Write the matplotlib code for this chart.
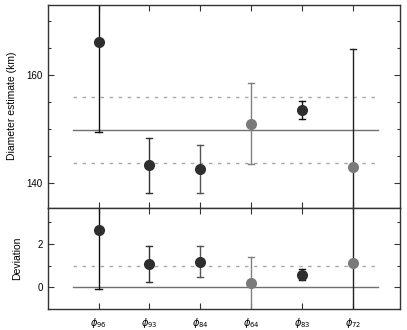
import numpy as np
import matplotlib.pyplot as plt

labels = [r"$\phi_{96}$", r"$\phi_{93}$", r"$\phi_{84}$", r"$\phi_{64}$", r"$\phi_{83}$", r"$\phi_{72}$"]

# diametro estimado (km) com barras de erro
diam = [166.0, 143.2, 142.5, 150.9, 153.5, 143.0]
diam_lo = [149.4, 138.0, 138.1, 143.4, 151.8, 125.0]
diam_hi = [180.0, 148.3, 146.9, 158.5, 155.2, 164.7]
diam_mean = 149.8
diam_std = 6.1

# desvio
dev = [2.63, 1.08, 1.17, 0.18, 0.58, 1.13]
dev_lo = [-0.08, 0.24, 0.46, -2.0, 0.33, -2.0]
dev_hi = [5.0, 1.91, 1.89, 1.40, 0.85, 5.0]

point_colors = ["#2e2e2e", "#2e2e2e", "#2e2e2e", "#7a7a7a", "#2e2e2e", "#7a7a7a"]
bar_colors = ["#111111", "#333333", "#555555", "#808080", "#111111", "#222222"]

plt.rcParams['font.family'] = ['Liberation Sans', 'DejaVu Sans']
plt.rcParams['mathtext.fontset'] = 'dejavusans'

fig = plt.figure(figsize=(4.07, 3.30), dpi=100)
ax1 = fig.add_axes([0.1172, 0.3712, 0.8668, 0.6146])
ax2 = fig.add_axes([0.1172, 0.0636, 0.8668, 0.3076])

x = np.arange(1, len(labels) + 1)


def draw_panel(ax, vals, lo, hi):
    for i in range(len(x)):
        ax.plot([x[i], x[i]], [lo[i], hi[i]], color=bar_colors[i], lw=1.0, zorder=2)
        for y in (lo[i], hi[i]):
            ax.plot([x[i] - 0.06, x[i] + 0.06], [y, y], color=bar_colors[i], lw=1.0, zorder=2)
        ax.plot(x[i], vals[i], 'o', color=point_colors[i], ms=8, mec='none', zorder=3)


# painel superior
ax1.plot([0.5, 6.5], [diam_mean, diam_mean], color="#707070", lw=1.0, zorder=1)
for s in (-1, 1):
    yy = diam_mean + s * diam_std
    ax1.plot([0.5, 6.5], [yy, yy], color="#a8a8a8", lw=1.0, dashes=(2.5, 4), zorder=1)
draw_panel(ax1, diam, diam_lo, diam_hi)
ax1.set_ylim(135.4, 173.0)
ax1.set_yticks([140, 160])
ax1.set_yticks(np.arange(140, 175, 5), minor=True)
ax1.set_ylabel("Diameter estimate (km)", fontsize=7.5, labelpad=7)

# painel inferior
ax2.plot([0.5, 6.5], [0, 0], color="#707070", lw=1.0, zorder=1)
ax2.plot([0.5, 6.5], [1, 1], color="#a8a8a8", lw=1.0, dashes=(2.5, 4), zorder=1)
draw_panel(ax2, dev, dev_lo, dev_hi)
ax2.set_ylim(-1.0, 3.67)
ax2.set_yticks([0, 2])
ax2.set_yticks([-1, 0, 1, 2, 3], minor=True)
ax2.set_ylabel("Deviation", fontsize=7.5, labelpad=11)

for ax in (ax1, ax2):
    ax.set_xlim(0, 6.94)
    ax.set_xticks(x)
    ax.tick_params(which='both', direction='in', top=True, right=True,
                   labelsize=7, color="#333333", width=0.8)
    ax.tick_params(which='major', length=4)
    ax.tick_params(which='minor', length=2.5)
    for sp in ax.spines.values():
        sp.set_linewidth(1.0)
        sp.set_color("#333333")

ax1.set_xticklabels([])
ax2.set_xticklabels(labels)
ax2.tick_params(axis='x', pad=5)

fig.savefig("out.png", dpi=100)
